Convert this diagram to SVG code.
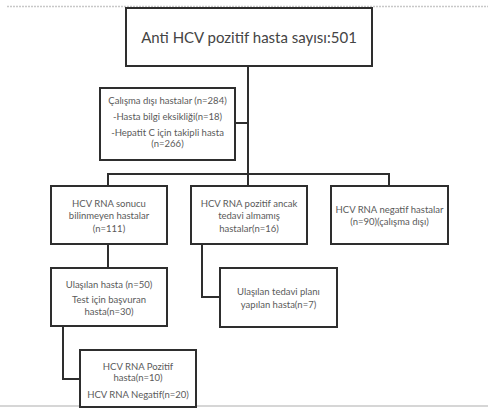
<svg xmlns="http://www.w3.org/2000/svg" width="488" height="408" viewBox="0 0 488 408">
<style>
.box{fill:#fff;stroke:#2e2e2e;stroke-width:2}
.wire{fill:none;stroke:#2e2e2e;stroke-width:2}
text{font-family:Lato,"Open Sans","Liberation Sans",sans-serif;fill:#5a5a5a;text-anchor:middle}
.t{font-size:15px;fill:#444}
.s{font-size:9.5px}
.edge{stroke:#c8c8c8;stroke-width:1.5;fill:none}
</style>
<rect width="488" height="408" fill="#fff"/>
<line class="edge" x1="7" y1="6.5" x2="488" y2="6.5" stroke-dasharray="2 1"/>
<line class="edge" x1="0" y1="406" x2="488" y2="406"/>
<g id="connectors">
<path class="wire" d="M248 66 V174"/>
<path class="wire" d="M235 123 H248"/>
<path class="wire" d="M108 186 V174 H389 V186"/>
<path class="wire" d="M248 174 V186"/>
<path class="wire" d="M108 244 V268"/>
<path class="wire" d="M202 244 V297 H220"/>
<path class="wire" d="M63 326 V379 H80"/>
</g>
<g id="n_top">
<rect class="box" x="126" y="8" width="246" height="58"/>
<text class="t" x="249" y="43">Anti HCV pozitif hasta sayısı:501</text>
</g>
<g id="n_excluded">
<rect class="box" x="100" y="88" width="135" height="72"/>
<text class="s" x="167.5" y="103.5">Çalışma dışı hastalar (n=284)</text>
<text class="s" x="167.5" y="119.5">-Hasta bilgi eksikliği(n=18)</text>
<text class="s" x="167.5" y="136">-Hepatit C için takipli hasta</text>
<text class="s" x="167.5" y="147">(n=266)</text>
</g>
<g id="n_unknown">
<rect class="box" x="51" y="186" width="116" height="58"/>
<text class="s" x="109" y="206.5">HCV RNA sonucu</text>
<text class="s" x="109" y="219">bilinmeyen hastalar</text>
<text class="s" x="109" y="231.5">(n=111)</text>
</g>
<g id="n_positive">
<rect class="box" x="191" y="186" width="116" height="58"/>
<text class="s" x="249" y="206.5">HCV RNA pozitif ancak</text>
<text class="s" x="249" y="219">tedavi almamış</text>
<text class="s" x="249" y="231.5">hastalar(n=16)</text>
</g>
<g id="n_negative">
<rect class="box" x="331" y="186" width="117" height="58"/>
<text class="s" x="389.5" y="212.5">HCV RNA negatif hastalar</text>
<text class="s" x="389.5" y="225">(n=90)(çalışma dışı)</text>
</g>
<g id="n_reached">
<rect class="box" x="51" y="268" width="116" height="58"/>
<text class="s" x="109" y="287.5">Ulaşılan hasta (n=50)</text>
<text class="s" x="109" y="302.5">Test için başvuran</text>
<text class="s" x="109" y="315">hasta(n=30)</text>
</g>
<g id="n_treatment">
<rect class="box" x="220" y="268" width="117" height="59"/>
<text class="s" x="278.5" y="295">Ulaşılan tedavi planı</text>
<text class="s" x="278.5" y="307.5">yapılan hasta(n=7)</text>
</g>
<g id="n_results">
<rect class="box" x="80" y="350" width="116" height="57"/>
<text class="s" x="138" y="369.5">HCV RNA Pozitif</text>
<text class="s" x="138" y="381">hasta(n=10)</text>
<text class="s" x="138" y="397.5">HCV RNA Negatif(n=20)</text>
</g>
</svg>
